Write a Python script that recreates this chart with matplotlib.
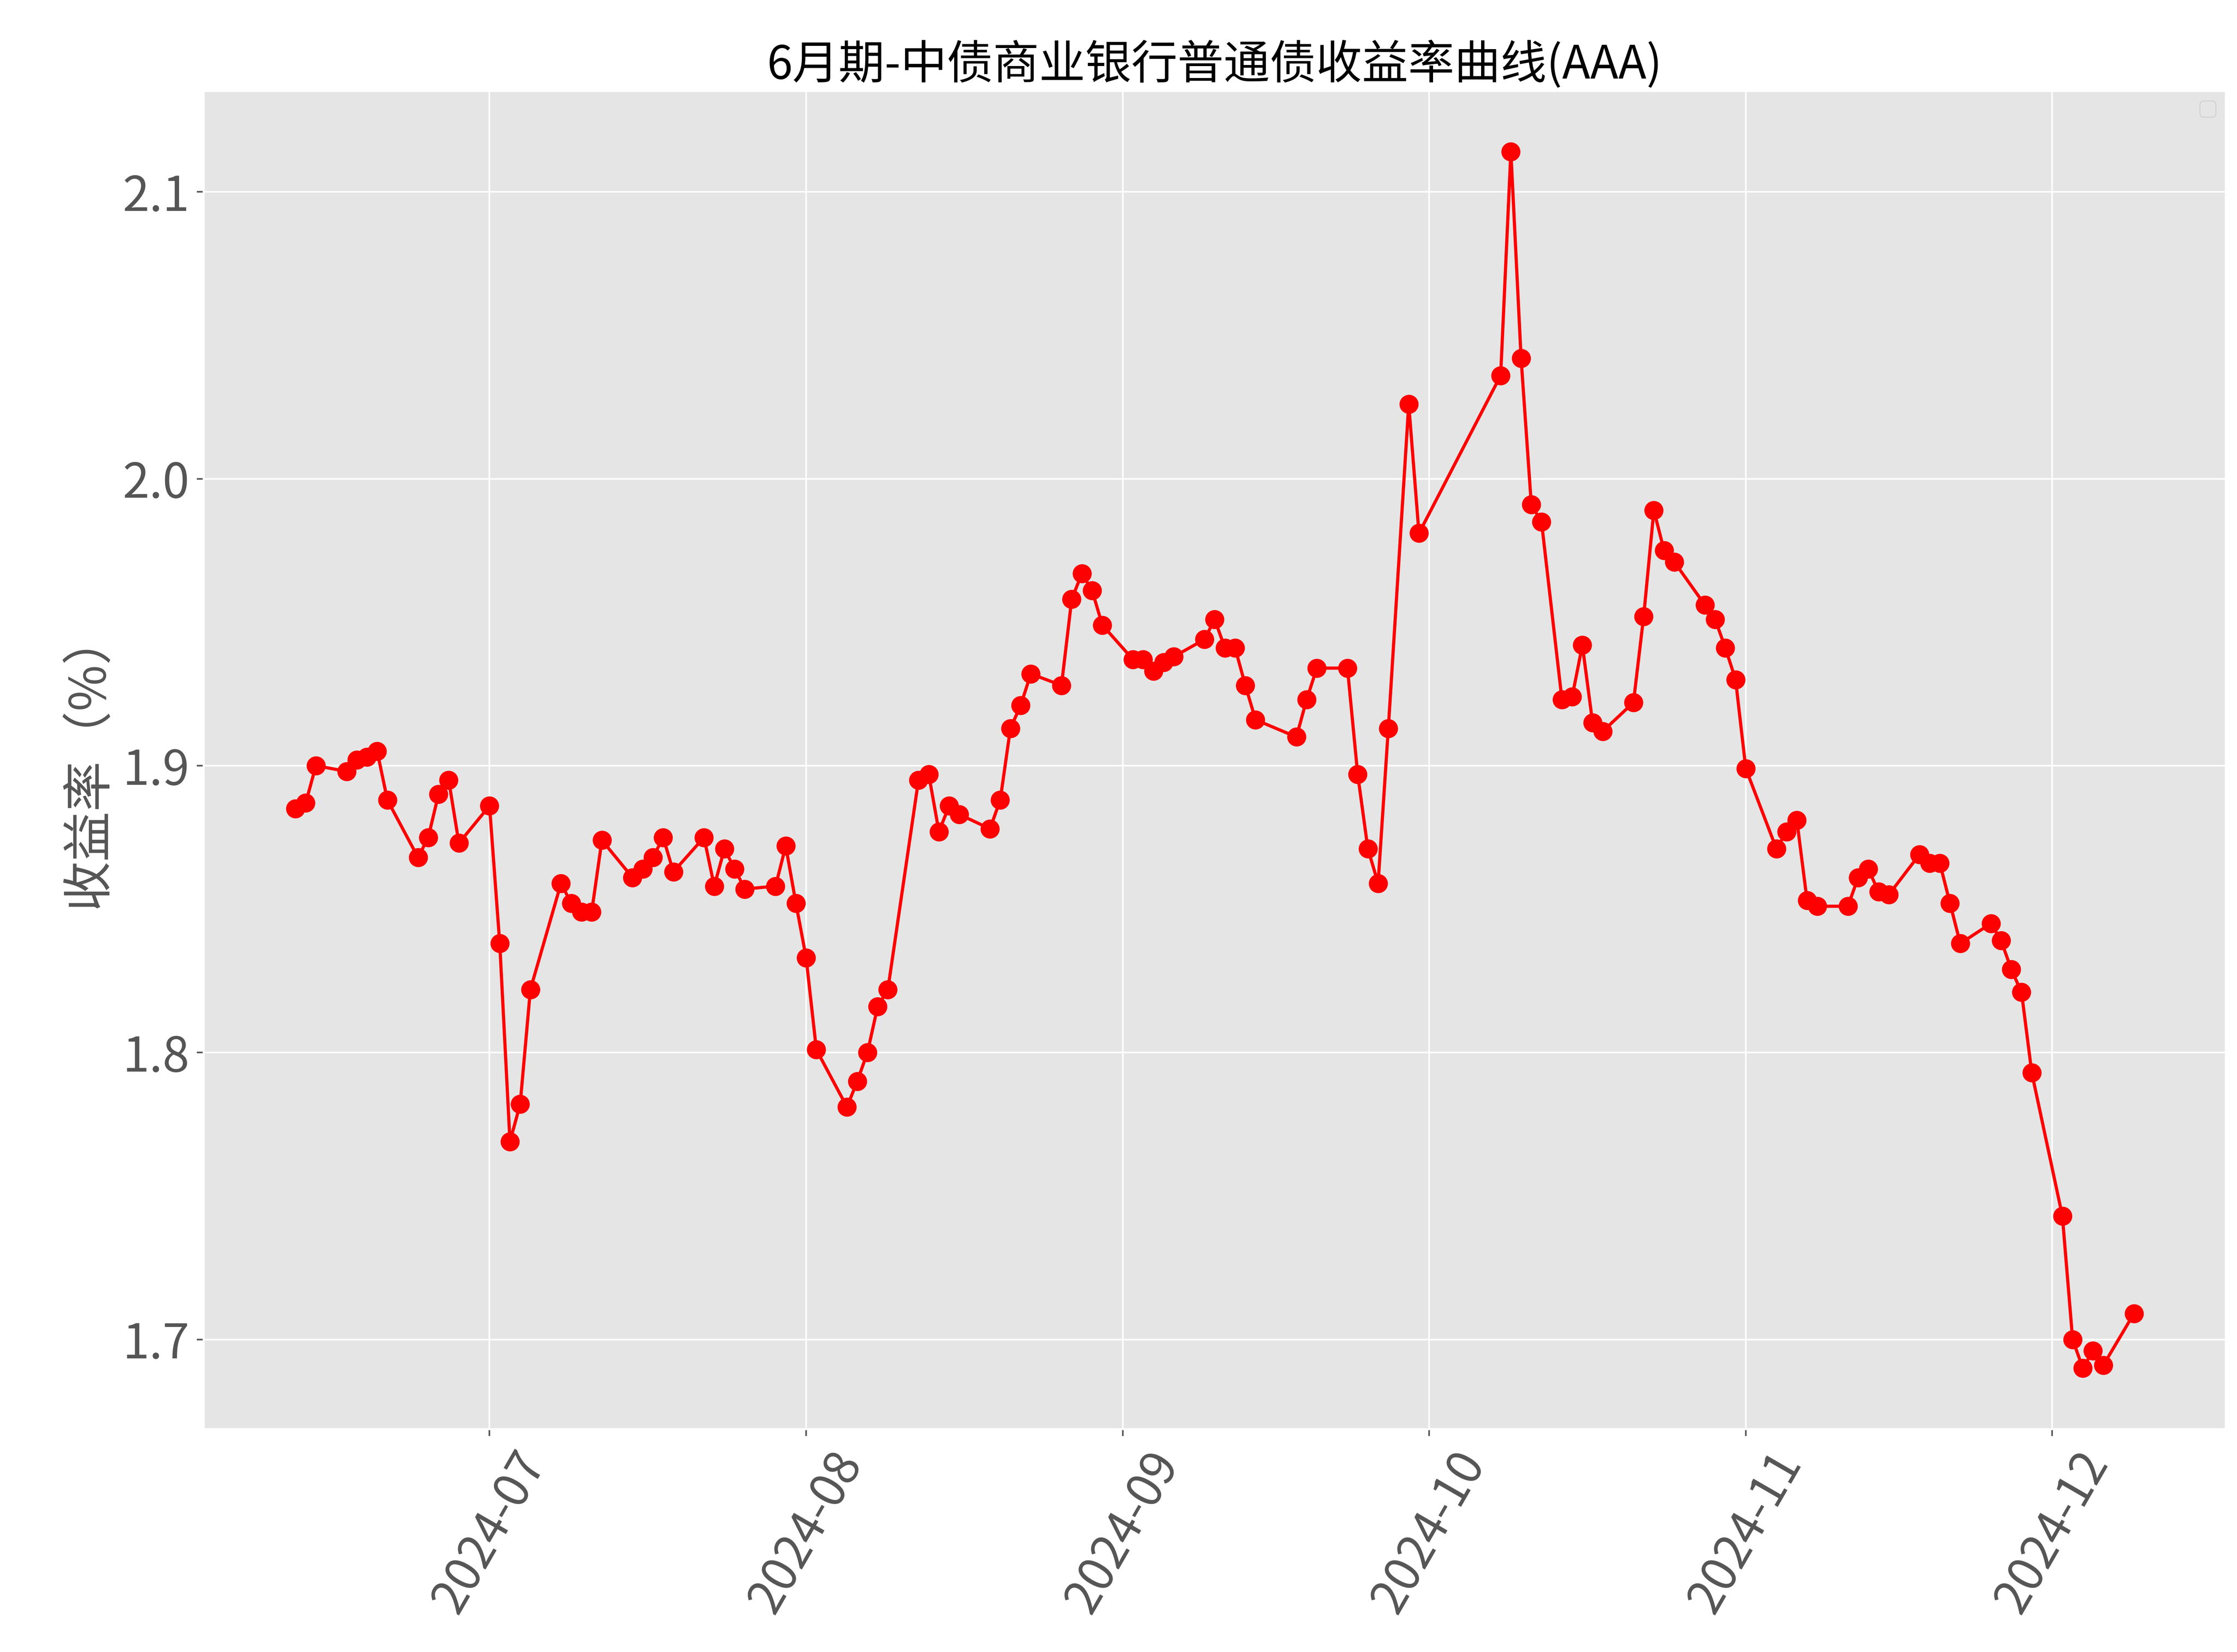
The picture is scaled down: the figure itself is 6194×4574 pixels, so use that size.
import matplotlib
matplotlib.use("Agg")
import matplotlib.pyplot as plt
import matplotlib.dates as mdates
import pandas as pd

plt.style.use("ggplot")
plt.rcParams['font.family'] = ['Noto Sans CJK SC', 'DejaVu Sans']
plt.rcParams['axes.unicode_minus'] = False

dates = [
    "2024-06-12", "2024-06-13", "2024-06-14", "2024-06-17", "2024-06-18", "2024-06-19",
    "2024-06-20", "2024-06-21", "2024-06-24", "2024-06-25", "2024-06-26", "2024-06-27",
    "2024-06-28", "2024-07-01", "2024-07-02", "2024-07-03", "2024-07-04", "2024-07-05",
    "2024-07-08", "2024-07-09", "2024-07-10", "2024-07-11", "2024-07-12", "2024-07-15",
    "2024-07-16", "2024-07-17", "2024-07-18", "2024-07-19", "2024-07-22", "2024-07-23",
    "2024-07-24", "2024-07-25", "2024-07-26", "2024-07-29", "2024-07-30", "2024-07-31",
    "2024-08-01", "2024-08-02", "2024-08-05", "2024-08-06", "2024-08-07", "2024-08-08",
    "2024-08-09", "2024-08-12", "2024-08-13", "2024-08-14", "2024-08-15", "2024-08-16",
    "2024-08-19", "2024-08-20", "2024-08-21", "2024-08-22", "2024-08-23", "2024-08-26",
    "2024-08-27", "2024-08-28", "2024-08-29", "2024-08-30", "2024-09-02", "2024-09-03",
    "2024-09-04", "2024-09-05", "2024-09-06", "2024-09-09", "2024-09-10", "2024-09-11",
    "2024-09-12", "2024-09-13", "2024-09-14", "2024-09-18", "2024-09-19", "2024-09-20",
    "2024-09-23", "2024-09-24", "2024-09-25", "2024-09-26", "2024-09-27", "2024-09-29",
    "2024-09-30", "2024-10-08", "2024-10-09", "2024-10-10", "2024-10-11", "2024-10-12",
    "2024-10-14", "2024-10-15", "2024-10-16", "2024-10-17", "2024-10-18", "2024-10-21",
    "2024-10-22", "2024-10-23", "2024-10-24", "2024-10-25", "2024-10-28", "2024-10-29",
    "2024-10-30", "2024-10-31", "2024-11-01", "2024-11-04", "2024-11-05", "2024-11-06",
    "2024-11-07", "2024-11-08", "2024-11-11", "2024-11-12", "2024-11-13", "2024-11-14",
    "2024-11-15", "2024-11-18", "2024-11-19", "2024-11-20", "2024-11-21", "2024-11-22",
    "2024-11-25", "2024-11-26", "2024-11-27", "2024-11-28", "2024-11-29", "2024-12-02",
    "2024-12-03", "2024-12-04", "2024-12-05", "2024-12-06", "2024-12-09",
]
yields = [
    1.885, 1.887, 1.900, 1.898, 1.902, 1.903,
    1.905, 1.888, 1.868, 1.875, 1.890, 1.895,
    1.873, 1.886, 1.838, 1.769, 1.782, 1.822,
    1.859, 1.852, 1.849, 1.849, 1.874, 1.861,
    1.864, 1.868, 1.875, 1.863, 1.875, 1.858,
    1.871, 1.864, 1.857, 1.858, 1.872, 1.852,
    1.833, 1.801, 1.781, 1.790, 1.800, 1.816,
    1.822, 1.895, 1.897, 1.877, 1.886, 1.883,
    1.878, 1.888, 1.913, 1.921, 1.932, 1.928,
    1.958, 1.967, 1.961, 1.949, 1.937, 1.937,
    1.933, 1.936, 1.938, 1.944, 1.951, 1.941,
    1.941, 1.928, 1.916, 1.910, 1.923, 1.934,
    1.934, 1.897, 1.871, 1.859, 1.913, 2.026,
    1.981, 2.036, 2.114, 2.042, 1.991, 1.985,
    1.923, 1.924, 1.942, 1.915, 1.912, 1.922,
    1.952, 1.989, 1.975, 1.971, 1.956, 1.951,
    1.941, 1.930, 1.899, 1.871, 1.877, 1.881,
    1.853, 1.851, 1.851, 1.861, 1.864, 1.856,
    1.855, 1.869, 1.866, 1.866, 1.852, 1.838,
    1.845, 1.839, 1.829, 1.821, 1.793, 1.743,
    1.700, 1.690, 1.696, 1.691, 1.709,
]
x = pd.to_datetime(dates)

fig, ax = plt.subplots(figsize=(15.485, 11.435), dpi=400)
fig.patch.set_facecolor('white')
fig.subplots_adjust(left=0.091, right=0.995, top=0.945, bottom=0.135)

ax.plot(x, yields, color='red', marker='o', markersize=8.5, linewidth=1.6)

ax.set_title("6月期-中债商业银行普通债收益率曲线(AAA)", fontsize=23, fontweight='medium')
ax.set_ylabel("收益率（%）", fontsize=25)
ax.xaxis.set_major_locator(mdates.MonthLocator())
ax.xaxis.set_major_formatter(mdates.DateFormatter('%Y-%m'))
ax.tick_params(axis='both', labelsize=24)
plt.setp(ax.get_xticklabels(), rotation=60)
ax.legend()

fig.savefig("out.png", dpi=400)
